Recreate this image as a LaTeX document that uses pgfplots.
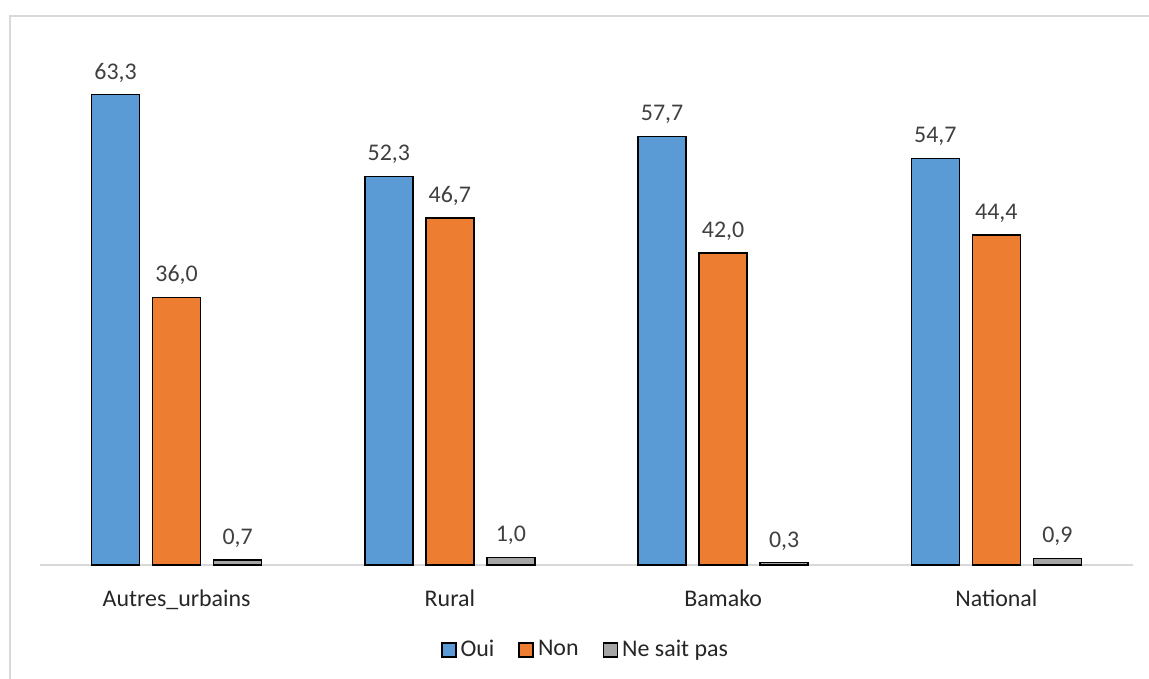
\documentclass[border=0pt]{standalone}
\usepackage{pgfplots}
\pgfplotsset{compat=1.18}
\usepackage{fontspec}
\setmainfont{Carlito}
\definecolor{cOui}{HTML}{5B9BD5}
\definecolor{cNon}{HTML}{ED7D31}
\definecolor{cNe}{HTML}{A5A5A5}
\definecolor{txt}{HTML}{404040}
\definecolor{frame}{HTML}{D9D9D9}
\begin{document}
\fontsize{12}{14}\selectfont
\begin{tikzpicture}
\useasboundingbox (0bp,0bp) rectangle (574.5bp,339.5bp);
\draw[frame, line width=0.6bp] (5bp,0bp) -- (5bp,331.5bp) -- (574.5bp,331.5bp);
\begin{axis}[
  at={(20bp,57bp)}, anchor=south west,
  scale only axis, width=546.5bp, height=260bp,
  xmin=-0.5, xmax=3.5, ymin=0, ymax=70,
  ybar,
  axis x line=bottom, axis y line=none,
  x axis line style={-, draw=frame, line width=0.8bp},
  xtick={0,1,2,3},
  xticklabels={Autres\_urbains, Rural, Bamako, National},
  xtick style={draw=none},
  ytick=\empty,
  xticklabel style={font=\fontsize{12}{14}\selectfont, text=black!85, yshift=-6bp},
  bar width=24bp,
  nodes near coords,
  nodes near coords style={font=\fontsize{12}{14}\selectfont, text=txt, yshift=2bp,
    /pgf/number format/fixed, /pgf/number format/fixed zerofill,
    /pgf/number format/precision=1, /pgf/number format/use comma,
    /pgf/number format/assume math mode=true},
  legend style={at={(0.5,-0.1635)}, anchor=center, draw=none, legend columns=3,
    font=\fontsize{12}{14}\selectfont, text=black!85,
    /tikz/every even column/.append style={column sep=10bp}},
  legend image code/.code={\draw[#1, draw=black, line width=0.8bp] (0bp,-3.5bp) rectangle (7bp,3.5bp);},
  clip=false,
]
\addplot[bar shift=-30.5bp, fill=cOui, draw=black, line width=0.7bp] coordinates {(0,63.3) (1,52.3) (2,57.7) (3,54.7)};
\addplot[bar shift=0bp, fill=cNon, draw=black, line width=0.7bp] coordinates {(0,36.0) (1,46.7) (2,42.0) (3,44.4)};
\addplot[bar shift=30.5bp, fill=cNe, draw=black, line width=0.7bp] coordinates {(0,0.7) (1,1.0) (2,0.3) (3,0.9)};
\legend{Oui, Non, Ne sait pas}
\end{axis}
\end{tikzpicture}
\end{document}
